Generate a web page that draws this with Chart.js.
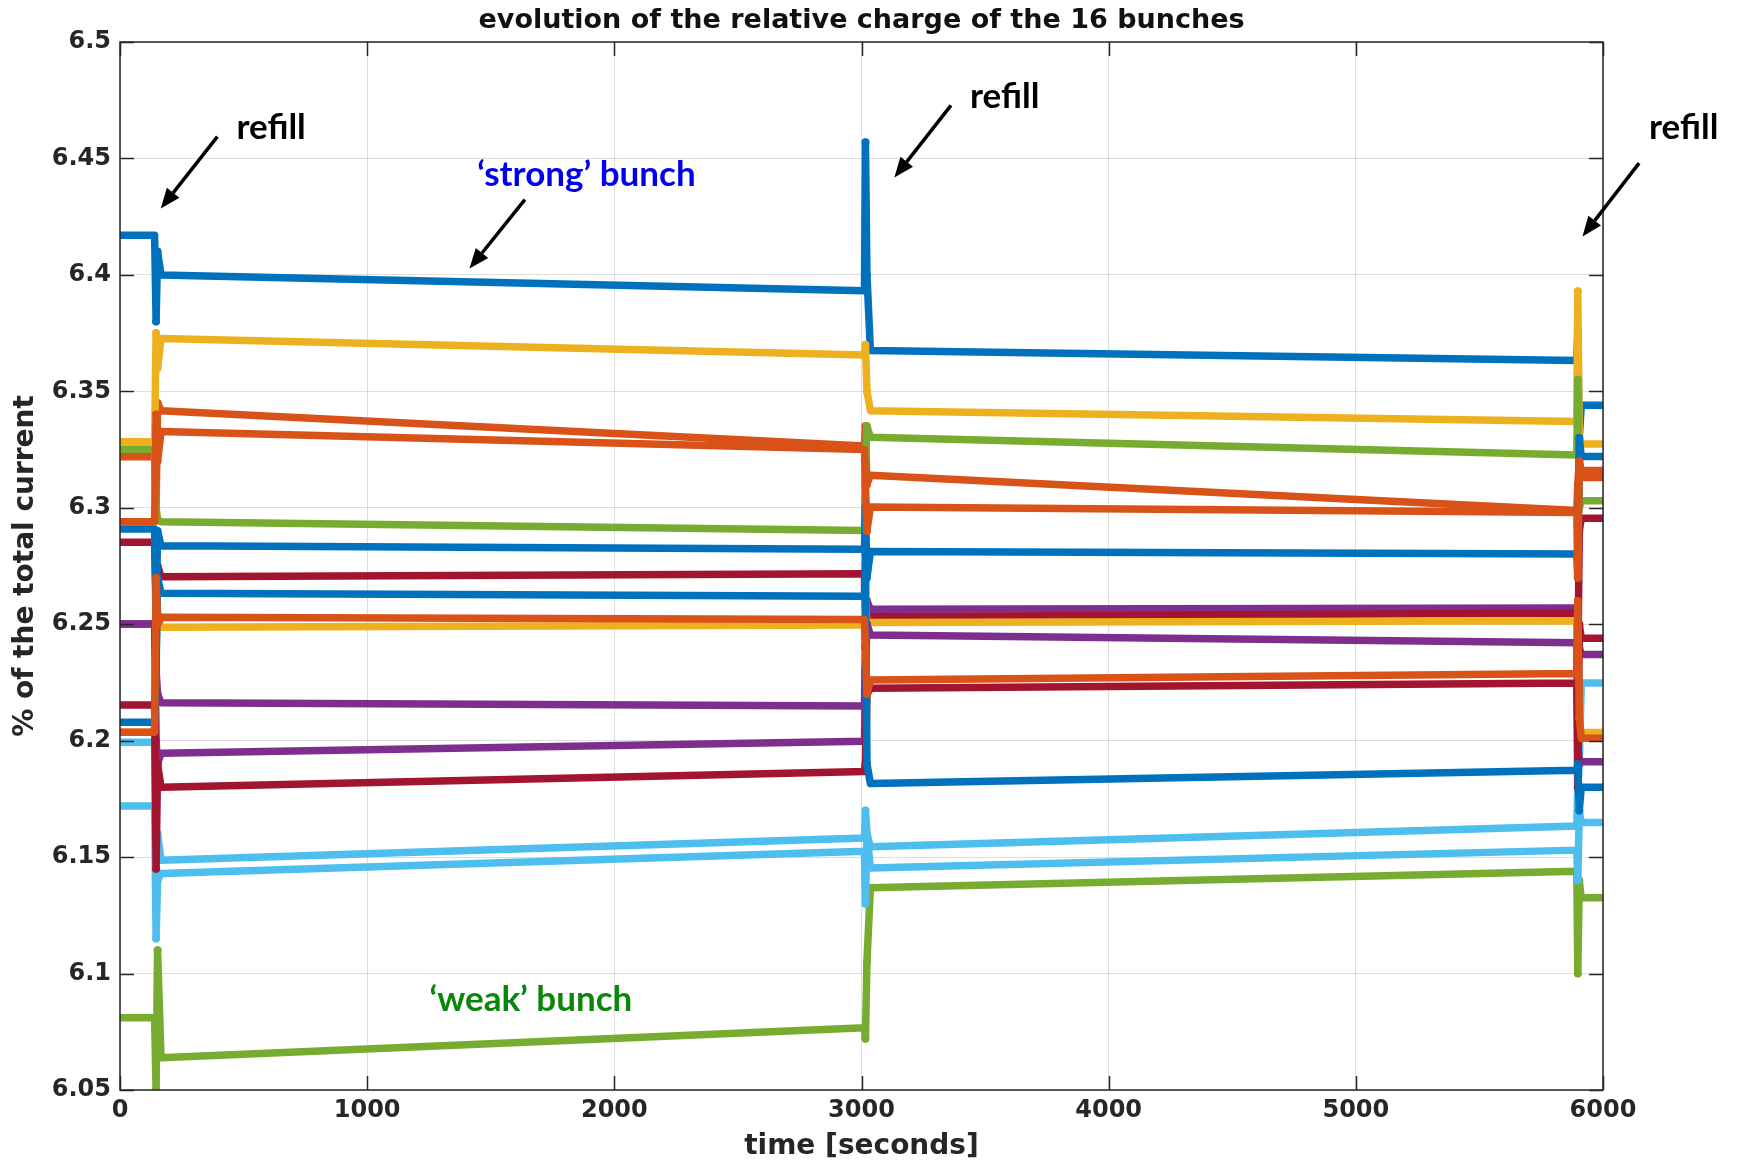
<!DOCTYPE html>
<html><head><meta charset="utf-8">
<script src="https://cdn.jsdelivr.net/npm/chart.js@4.4.1/dist/chart.umd.min.js"></script>
<style>html,body{margin:0;padding:0;background:#fff}canvas{display:block}</style>
</head><body>
<canvas id="c" width="1740" height="1164"></canvas>
<script>
// ---- data ----
const times = [0, 140, 146, 152, 166, 3012, 3016, 3022, 3036, 5894, 5898, 5904, 5912, 6000];
const bunch01 = [6.417,6.417, 6.38,6.41, 6.400,6.3932, 6.457,6.40, 6.3675,6.3632, 6.375,6.33, 6.344,6.344];
const bunch02 = [6.3219,6.3219, 6.30,6.345, 6.3417,6.3265, 6.335,6.31, 6.314,6.2988, 6.31,6.32, 6.316,6.316];
const bunch03 = [6.3284,6.3284, 6.375,6.36, 6.3727,6.3656, 6.37,6.35, 6.3417,6.337, 6.393,6.33, 6.3274,6.3274];
const bunch04 = [6.2501,6.2501, 6.23,6.22, 6.2163,6.2149, 6.24,6.26, 6.2564,6.257, 6.25,6.24, 6.237,6.237];
const bunch05 = [6.3251,6.3251, 6.30,6.295, 6.294,6.2902, 6.32,6.335, 6.3303,6.3227, 6.355,6.30, 6.303,6.303];
const bunch06 = [6.1993,6.1993, 6.15,6.16, 6.1487,6.1582, 6.17,6.16, 6.1544,6.1634, 6.18,6.19, 6.2248,6.2248];
const bunch07 = [6.2852,6.2852, 6.26,6.275, 6.2704,6.2717, 6.24,6.25, 6.2532,6.2548, 6.23,6.29, 6.2955,6.2955];
const bunch08 = [6.2909,6.2909, 6.25,6.29, 6.2837,6.2822, 6.30,6.27, 6.2812,6.2802, 6.27,6.33, 6.322,6.322];
const bunch09 = [6.294,6.294, 6.34,6.32, 6.3327,6.325, 6.31,6.29, 6.3003,6.298, 6.27,6.32, 6.313,6.313];
const bunch10 = [6.2036,6.2036, 6.24,6.255, 6.2487,6.2497, 6.26,6.25, 6.2507,6.2515, 6.21,6.20, 6.2035,6.2035];
const bunch11 = [6.2501,6.2501, 6.20,6.19, 6.1946,6.1997, 6.23,6.25, 6.2454,6.242, 6.20,6.19, 6.191,6.191];
const bunch12 = [6.081,6.081, 6.05,6.11, 6.0638,6.0767, 6.072,6.105, 6.1368,6.1439, 6.10,6.14, 6.1325,6.1325];
const bunch13 = [6.172,6.172, 6.115,6.14, 6.143,6.1525, 6.13,6.16, 6.1453,6.153, 6.14,6.17, 6.1649,6.1649];
const bunch14 = [6.2153,6.2153, 6.145,6.19, 6.180,6.1868, 6.19,6.22, 6.2225,6.2248, 6.18,6.25, 6.244,6.244];
const bunch15 = [6.2079,6.2079, 6.23,6.27, 6.2633,6.262, 6.28,6.19, 6.1816,6.1873, 6.19,6.17, 6.180,6.180];
const bunch16 = [6.2036,6.2036, 6.27,6.25, 6.253,6.252, 6.24,6.22, 6.226,6.2288, 6.26,6.21, 6.201,6.201];
const bunches = [bunch01,bunch02,bunch03,bunch04,bunch05,bunch06,bunch07,bunch08,bunch09,bunch10,bunch11,bunch12,bunch13,bunch14,bunch15,bunch16];

const xTicks = [0, 1000, 2000, 3000, 4000, 5000, 6000];
const yTicks = [6.05, 6.1, 6.15, 6.2, 6.25, 6.3, 6.35, 6.4, 6.45, 6.5];

// annotations (data units)
const noteTexts = ['refill', 'refill', 'refill', '\u2018strong\u2019 bunch', '\u2018weak\u2019 bunch'];
const noteX = [471, 3439, 6186, 1445, 1252];
const noteY = [6.4632, 6.4766, 6.4632, 6.4432, 6.0887];
const arrowFromX = [394, 3362, 6146, 1638];
const arrowFromY = [6.4594, 6.4728, 6.448, 6.4323];
const arrowToX = [165, 3133, 5917, 1414];
const arrowToY = [6.4285, 6.4418, 6.4165, 6.4027];

// ---- styles ----
const palette = ['#0072BD','#D95319','#EDB120','#7E2F8E','#77AC30','#4DBEEE','#A2142F'];
const noteColors = ['#000000','#000000','#000000','#0000EE','#0A870A'];
const spikeIdx = new Set([2,3,6,7,10,11]);
const AX = '#262626';
const FONT = "'DejaVu Sans', sans-serif";

const datasets = bunches.map((vals, i) => ({
  label: 'bunch ' + (i + 1),
  data: vals.map((v, k) => ({x: times[k], y: v})),
  borderColor: palette[i % 7],
  backgroundColor: palette[i % 7],
  borderWidth: 7.5,
  borderJoinStyle: 'round',
  borderCapStyle: 'round',
  pointRadius: ctx => spikeIdx.has(ctx.dataIndex) ? 4 : 0,
  pointBorderWidth: 0,
  tension: 0,
  order: bunches.length - i
}));

const decor = {
  id: 'decor',
  afterDraw(chart) {
    const {ctx, chartArea: a, scales: {x, y}} = chart;
    ctx.save();
    // box
    ctx.strokeStyle = AX; ctx.lineWidth = 1.5;
    ctx.strokeRect(a.left, a.top, a.right - a.left, a.bottom - a.top);
    // inward ticks
    const L = 14;
    ctx.beginPath();
    xTicks.forEach(t => {
      const px = Math.round(x.getPixelForValue(t)) + 0.5;
      ctx.moveTo(px, a.bottom); ctx.lineTo(px, a.bottom - L);
      ctx.moveTo(px, a.top); ctx.lineTo(px, a.top + L);
    });
    yTicks.forEach(t => {
      const py = Math.round(y.getPixelForValue(t)) + 0.5;
      ctx.moveTo(a.left, py); ctx.lineTo(a.left + L, py);
      ctx.moveTo(a.right, py); ctx.lineTo(a.right - L, py);
    });
    ctx.stroke();
    // title
    ctx.fillStyle = '#111';
    ctx.font = "bold 27px " + FONT;
    ctx.textAlign = 'center'; ctx.textBaseline = 'middle';
    ctx.fillText('evolution of the relative charge of the 16 bunches', (a.left + a.right) / 2, 21);
    // arrows
    ctx.strokeStyle = '#000'; ctx.fillStyle = '#000'; ctx.lineWidth = 3.5;
    arrowFromX.forEach((fx, i) => {
      const x0 = x.getPixelForValue(fx), y0 = y.getPixelForValue(arrowFromY[i]);
      const x1 = x.getPixelForValue(arrowToX[i]), y1 = y.getPixelForValue(arrowToY[i]);
      const ang = Math.atan2(y1 - y0, x1 - x0);
      const hl = 20, hw = 8;
      const bx = x1 - hl * Math.cos(ang), by = y1 - hl * Math.sin(ang);
      ctx.beginPath(); ctx.moveTo(x0, y0); ctx.lineTo(bx, by); ctx.stroke();
      ctx.beginPath();
      ctx.moveTo(x1, y1);
      ctx.lineTo(bx + hw * Math.sin(ang), by - hw * Math.cos(ang));
      ctx.lineTo(bx - hw * Math.sin(ang), by + hw * Math.cos(ang));
      ctx.closePath(); ctx.fill();
    });
    // notes
    ctx.font = "bold 35px Lato, 'Open Sans', sans-serif";
    ctx.textAlign = 'left'; ctx.textBaseline = 'middle';
    noteTexts.forEach((t, i) => {
      ctx.fillStyle = noteColors[i];
      ctx.fillText(t, x.getPixelForValue(noteX[i]), y.getPixelForValue(noteY[i]));
    });
    ctx.restore();
  }
};

new Chart(document.getElementById('c'), {
  type: 'line',
  data: {datasets},
  options: {
    responsive: false,
    animation: false,
    parsing: true,
    layout: {padding: {top: 42, right: 137, left: 0, bottom: 0}},
    plugins: {legend: {display: false}, tooltip: {enabled: false}, title: {display: false}},
    scales: {
      x: {
        type: 'linear', min: 0, max: 6000,
        afterBuildTicks: s => { s.ticks = xTicks.map(v => ({value: v})); },
        afterFit: s => { s.height = 74; },
        ticks: {color: AX, font: {family: FONT, size: 24, weight: 'bold'}, padding: 6, maxRotation: 0,
                callback: v => String(v)},
        grid: {color: 'rgba(0,0,0,0.13)', lineWidth: 1, drawTicks: false},
        border: {display: false},
        title: {display: true, text: 'time [seconds]', color: AX,
                font: {family: FONT, size: 28, weight: 'bold'}, padding: {top: 0, bottom: 0}}
      },
      y: {
        type: 'linear', min: 6.05, max: 6.5,
        afterBuildTicks: s => { s.ticks = yTicks.map(v => ({value: v})); },
        afterFit: s => { s.width = 120; },
        ticks: {color: AX, font: {family: FONT, size: 24, weight: 'bold'}, padding: 9,
                callback: v => String(Number(v.toFixed(2)))},
        grid: {color: 'rgba(0,0,0,0.13)', lineWidth: 1, drawTicks: false},
        border: {display: false},
        title: {display: true, text: '% of the total current', color: AX,
                font: {family: FONT, size: 28, weight: 'bold'}, padding: {top: 9, bottom: 0}}
      }
    }
  },
  plugins: [decor]
});
</script>
</body></html>
